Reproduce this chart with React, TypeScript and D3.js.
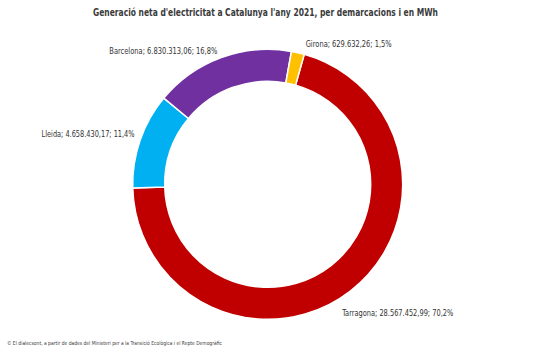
import React from "react";
import * as d3 from "d3";

const categories = ["Tarragona", "Lleida", "Barcelona", "Girona"];
const values = [28567452.99, 4658430.17, 6830313.06, 629632.26];
const valueLabels = ["28.567.452,99", "4.658.430,17", "6.830.313,06", "629.632,26"];
const percentLabels = ["70,2%", "11,4%", "16,8%", "1,5%"];
const colors = ["#C00000", "#00B0F0", "#7030A0", "#FFC000"];

const title = "Generació neta d'electricitat a Catalunya l'any 2021, per demarcacions i en MWh";
const footer = "© El dialecsont, a partir de dades del Ministeri per a la Transició Ecològica i el Repte Demogràfic";

// layout (not data)
const W = 536;
const H = 350;
const cx = 267.7;
const cy = 184.3;
const outerR = 135;
const innerR = 103;
const startDeg = 15.7;
const labelR = 170;
const labelNudge: Record<string, [number, number, number]> = {
  // dx, dy, textLength
  Tarragona: [25.6, -5.3, 111],
  Lleida: [-19, 6, 93],
  Barcelona: [-46, 27, 108],
  Girona: [43, 26, 86],
};

const FONT = "'Liberation Sans Narrow', 'DejaVu Sans Condensed', 'Roboto', sans-serif";

export default function App() {
  const start = (startDeg * Math.PI) / 180;
  const pie = d3
    .pie<number>()
    .sort(null)
    .value((d) => d)
    .startAngle(start)
    .endAngle(start + 2 * Math.PI);
  const arcs = pie(values);
  const arc = d3.arc<d3.PieArcDatum<number>>().innerRadius(innerR).outerRadius(outerR);

  return (
    <svg
      width={W}
      height={H}
      style={{ position: "absolute", left: 0, top: 0, background: "#fff" }}
      xmlns="http://www.w3.org/2000/svg"
    >
      <rect x={0} y={0} width={W} height={H} fill="#fff" />
      <text
        x={265.5}
        y={16}
        textAnchor="middle"
        fontFamily={FONT}
        fontWeight="bold"
        fontSize={10.5}
        fill="#3a3a3a"
        textLength={345}
        lengthAdjust="spacingAndGlyphs"
      >
        {title}
      </text>
      <g transform={`translate(${cx},${cy})`}>
        {arcs.map((a, i) => (
          <path key={categories[i]} d={arc(a) || ""} fill={colors[i]} stroke="#fff" strokeWidth={1.5} />
        ))}
      </g>
      {arcs.map((a, i) => {
        const mid = (a.startAngle + a.endAngle) / 2;
        const [dx, dy, tl] = labelNudge[categories[i]];
        const x = cx + labelR * Math.sin(mid) + dx;
        const y = cy - labelR * Math.cos(mid) + dy;
        return (
          <text
            key={"l" + i}
            x={x}
            y={y + 2.7}
            textAnchor="middle"
            fontFamily={FONT}
            fontSize={8}
            fill="#333333"
            textLength={tl}
            lengthAdjust="spacingAndGlyphs"
          >
            {`${categories[i]}; ${valueLabels[i]}; ${percentLabels[i]}`}
          </text>
        );
      })}
      <text
        x={7}
        y={345}
        fontFamily={FONT}
        fontSize={5.5}
        fill="#404040"
        textLength={215}
        lengthAdjust="spacingAndGlyphs"
      >
        {footer}
      </text>
    </svg>
  );
}
